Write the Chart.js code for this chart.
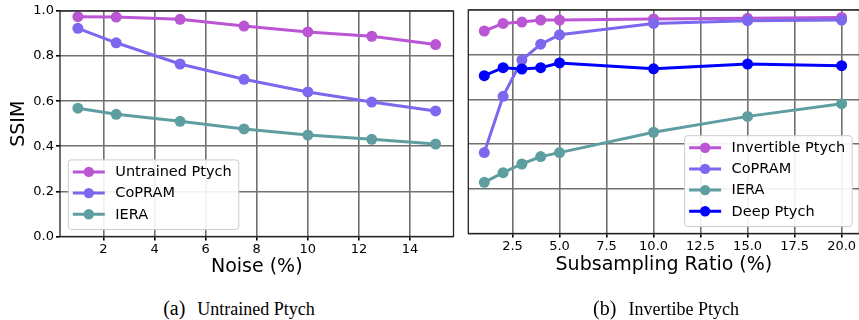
<!DOCTYPE html>
<html>
<head>
<meta charset="utf-8">
<script src="https://cdn.jsdelivr.net/npm/chart.js@4.4.1/dist/chart.umd.min.js"></script>
<style>
  body { margin: 0; width: 859px; height: 320px; overflow: hidden; background: #fff; position: relative; }
  canvas { position: absolute; top: 0; }
  #c1 { left: 0; }
  #c2 { left: 440px; }
  .cap { position: absolute; top: 298px; width: 320px; text-align: center; white-space: nowrap;
         font-family: "Liberation Serif", serif; font-size: 18px; line-height: 20px; color: #000; }
  .cap span { font-size: 20px; margin-right: 12px; }
</style>
</head>
<body>
<canvas id="c1" width="459" height="290"></canvas>
<canvas id="c2" width="430" height="290"></canvas>
<div class="cap" style="left:79px"><span>(a)</span>Untrained Ptych</div>
<div class="cap" style="left:506px"><span>(b)</span>Invertibe Ptych</div>
<script>
// left panel: SSIM vs noise
const noise = [1, 2.5, 5, 7.5, 10, 12.5, 15];
const untrained = [0.975, 0.973, 0.963, 0.933, 0.907, 0.888, 0.851];
const copramNoise = [0.923, 0.859, 0.765, 0.697, 0.641, 0.596, 0.557];
const ieraNoise = [0.569, 0.542, 0.511, 0.477, 0.450, 0.431, 0.410];

// right panel: SSIM vs subsampling ratio
const ratio = [1, 2, 3, 4, 5, 10, 15, 20];
const invertible = [0.906, 0.940, 0.946, 0.955, 0.955, 0.960, 0.963, 0.967];
const copramRatio = [0.362, 0.614, 0.776, 0.847, 0.889, 0.940, 0.952, 0.955];
const ieraRatio = [0.229, 0.272, 0.311, 0.344, 0.362, 0.453, 0.524, 0.581];
const deepPtych = [0.706, 0.742, 0.736, 0.742, 0.763, 0.737, 0.758, 0.751];

const noiseTicks = [2, 4, 6, 8, 10, 12, 14];
const ratioTicks = [2.5, 5, 7.5, 10, 12.5, 15, 17.5, 20];
const ssimTicks = [0, 0.2, 0.4, 0.6, 0.8, 1.0];

const ORCHID = 'rgb(186,85,211)';
const SLATE = 'rgb(123,104,238)';
const CADET = 'rgb(95,158,160)';
const BLUE = 'rgb(0,0,255)';
const FONT = '"DejaVu Sans", sans-serif';

// axes box like matplotlib spines
const frame = {
  id: 'frame',
  afterDatasetsDraw(chart) {
    const { ctx, chartArea: a } = chart;
    ctx.save();
    ctx.strokeStyle = '#222';
    ctx.lineWidth = 1.3;
    ctx.strokeRect(a.left, a.top, a.right - a.left, a.bottom - a.top);
    ctx.restore();
  }
};

// legend box inside plot, line + marker handles
const boxLegend = {
  id: 'boxLegend',
  afterDraw(chart, args, opts) {
    const { ctx, chartArea: a } = chart;
    const sets = chart.data.datasets;
    ctx.save();
    ctx.font = '14.5px ' + FONT;
    const tw = Math.max(...sets.map(d => ctx.measureText(d.label).width));
    const w = 47 + tw + 7, h = sets.length * 21.2 + 6;
    const x = opts.side === 'left' ? a.left + 8.3 : a.right - 7.3 - w;
    const y = a.bottom - 7 - h;
    ctx.fillStyle = 'rgba(255,255,255,0.9)';
    ctx.strokeStyle = '#cccccc';
    ctx.lineWidth = 1;
    ctx.beginPath();
    ctx.roundRect(x, y, w, h, 3);
    ctx.fill();
    ctx.stroke();
    sets.forEach((d, i) => {
      const cy = y + 12 + i * 21.2;
      ctx.strokeStyle = d.borderColor;
      ctx.lineWidth = 3;
      ctx.beginPath();
      ctx.moveTo(x + 4.5, cy);
      ctx.lineTo(x + 36.5, cy);
      ctx.stroke();
      ctx.fillStyle = d.borderColor;
      ctx.beginPath();
      ctx.arc(x + 20.5, cy, 5.2, 0, Math.PI * 2);
      ctx.fill();
      ctx.fillStyle = '#000';
      ctx.textBaseline = 'middle';
      ctx.fillText(d.label, x + 47, cy + 0.5);
    });
    ctx.restore();
  }
};

function series(label, xs, ys, color, i) {
  return {
    label: label,
    data: xs.map((x, k) => ({ x: x, y: ys[k] })),
    borderColor: color,
    backgroundColor: color,
    pointBackgroundColor: color,
    pointBorderColor: color,
    borderWidth: 3,
    pointRadius: 5.5,
    pointBorderWidth: 0,
    tension: 0,
    order: -i
  };
}

const gridStyle = { color: '#707070', lineWidth: 1.6, tickColor: '#000', tickLength: 4 };

new Chart(document.getElementById('c1'), {
  type: 'line',
  data: {
    datasets: [
      series('Untrained Ptych', noise, untrained, ORCHID, 0),
      series('CoPRAM', noise, copramNoise, SLATE, 1),
      series('IERA', noise, ieraNoise, CADET, 2)
    ]
  },
  options: {
    responsive: false,
    animation: false,
    events: [],
    layout: { padding: { top: 11, right: 2.3, left: 0, bottom: 0 } },
    plugins: { legend: { display: false }, tooltip: { enabled: false }, boxLegend: { side: 'left' } },
    scales: {
      x: {
        type: 'linear', min: 0.3, max: 15.7,
        afterBuildTicks: s => { s.ticks = noiseTicks.map(v => ({ value: v })); },
        afterFit: s => { s.height = 53.5; },
        ticks: { font: { family: FONT, size: 13 }, color: '#000', padding: 1, maxRotation: 0, autoSkip: false },
        grid: gridStyle,
        border: { display: false },
        title: { display: true, text: 'Noise (%)', color: '#000', font: { family: FONT, size: 19 }, padding: { top: 0, bottom: 12 } }
      },
      y: {
        min: 0, max: 1,
        afterBuildTicks: s => { s.ticks = ssimTicks.map(v => ({ value: v })); },
        afterFit: s => { s.width = 60; },
        ticks: { font: { family: FONT, size: 13 }, color: '#000', padding: 2, callback: v => v.toFixed(1) },
        grid: gridStyle,
        border: { display: false },
        title: { display: true, text: 'SSIM', color: '#000', font: { family: FONT, size: 19 }, padding: { top: 7.6, bottom: 0 } }
      }
    }
  },
  plugins: [frame, boxLegend]
});

new Chart(document.getElementById('c2'), {
  type: 'line',
  data: {
    datasets: [
      series('Invertible Ptych', ratio, invertible, ORCHID, 0),
      series('CoPRAM', ratio, copramRatio, SLATE, 1),
      series('IERA', ratio, ieraRatio, CADET, 2),
      series('Deep Ptych', ratio, deepPtych, BLUE, 3)
    ]
  },
  options: {
    responsive: false,
    animation: false,
    events: [],
    layout: { padding: { top: 10, right: 10.5, left: 0, bottom: 0 } },
    plugins: { legend: { display: false }, tooltip: { enabled: false }, boxLegend: { side: 'right' } },
    scales: {
      x: {
        type: 'linear', min: 0.15, max: 20.95,
        afterBuildTicks: s => { s.ticks = ratioTicks.map(v => ({ value: v })); },
        afterFit: s => { s.height = 56.5; },
        ticks: { font: { family: FONT, size: 13 }, color: '#000', padding: 1, maxRotation: 0, autoSkip: false, callback: v => v.toFixed(1) },
        grid: gridStyle,
        border: { display: false },
        title: { display: true, text: 'Subsampling Ratio (%)', color: '#000', font: { family: FONT, size: 19 }, padding: { top: 0, bottom: 13.6 } }
      },
      y: {
        min: 0, max: 1,
        afterBuildTicks: s => { s.ticks = ssimTicks.map(v => ({ value: v })); },
        afterFit: s => { s.width = 28.3; },
        ticks: { display: false },
        grid: { color: '#707070', lineWidth: 1.6, drawTicks: false },
        border: { display: false }
      }
    }
  },
  plugins: [frame, boxLegend]
});
</script>
</body>
</html>
